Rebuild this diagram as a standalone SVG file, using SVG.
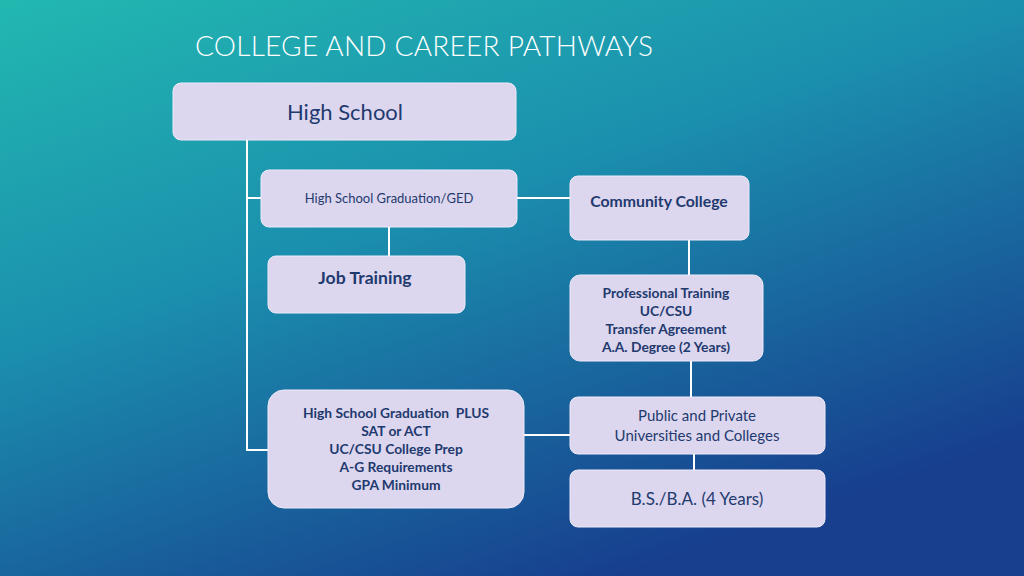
<svg xmlns="http://www.w3.org/2000/svg" width="1024" height="576" viewBox="0 0 1024 576">
<defs>
<linearGradient id="bg" x1="0" y1="0" x2="0.6" y2="1">
<stop offset="0" stop-color="#22b8b0"/>
<stop offset="0.45" stop-color="#1b8fae"/>
<stop offset="1" stop-color="#173f8e"/>
</linearGradient>
<style>
.box{fill:#dcd6ee;stroke:#eeeaf8;stroke-width:1}
.t{font-family:Lato,"Open Sans",sans-serif;fill:#1f3a6e;text-anchor:middle}
.b{font-weight:bold}
.c{stroke:#ffffff;stroke-width:2;fill:none}
</style>
</defs>
<rect width="1024" height="576" fill="url(#bg)"/>
<text x="195" y="56" font-family="Lato,'Open Sans',sans-serif" font-weight="300" font-size="28" fill="#ffffff" textLength="458">COLLEGE AND CAREER PATHWAYS</text>
<g id="connectors">
<polyline class="c" points="247,140 247,450 268,450"/>
<line class="c" x1="247" y1="198" x2="261" y2="198"/>
<line class="c" x1="389" y1="227" x2="389" y2="256"/>
<line class="c" x1="517" y1="198" x2="570" y2="198"/>
<line class="c" x1="689" y1="240" x2="689" y2="275"/>
<line class="c" x1="691" y1="361" x2="691" y2="397"/>
<line class="c" x1="524" y1="435" x2="570" y2="435"/>
<line class="c" x1="694" y1="454" x2="694" y2="470"/>
</g>
<g id="high-school">
<rect class="box" x="173" y="83" width="343" height="57" rx="8"/>
<text class="t" x="345" y="120" font-size="22">High School</text>
</g>
<g id="hs-grad-ged">
<rect class="box" x="261" y="170" width="256" height="57" rx="8"/>
<text class="t" x="389" y="203" font-size="13">High School Graduation/GED</text>
</g>
<g id="community-college">
<rect class="box" x="570" y="176" width="179" height="64" rx="8"/>
<text class="t b" x="659" y="207" font-size="15.8">Community College</text>
</g>
<g id="job-training">
<rect class="box" x="268" y="256" width="197" height="57" rx="8"/>
<text class="t b" x="365" y="284" font-size="17.6">Job Training</text>
</g>
<g id="professional-training">
<rect class="box" x="570" y="275" width="193" height="86" rx="10"/>
<text class="t b" font-size="13.8"><tspan x="666" y="298">Professional Training</tspan><tspan x="666" y="316">UC/CSU</tspan><tspan x="666" y="334">Transfer Agreement</tspan><tspan x="666" y="352">A.A. Degree (2 Years)</tspan></text>
</g>
<g id="hs-grad-plus">
<rect class="box" x="268" y="390" width="256" height="118" rx="16"/>
<text class="t b" font-size="13.8"><tspan x="396" y="418" style="white-space:pre">High School Graduation  PLUS</tspan><tspan x="396" y="436">SAT or ACT</tspan><tspan x="396" y="454">UC/CSU College Prep</tspan><tspan x="396" y="472">A-G Requirements</tspan><tspan x="396" y="490">GPA Minimum</tspan></text>
</g>
<g id="universities">
<rect class="box" x="570" y="397" width="255" height="57" rx="8"/>
<text class="t" font-size="15"><tspan x="697" y="421">Public and Private</tspan><tspan x="697" y="441">Universities and Colleges</tspan></text>
</g>
<g id="bs-ba">
<rect class="box" x="570" y="470" width="255" height="57" rx="8"/>
<text class="t" x="697" y="505" font-size="17">B.S./B.A. (4 Years)</text>
</g>
</svg>
